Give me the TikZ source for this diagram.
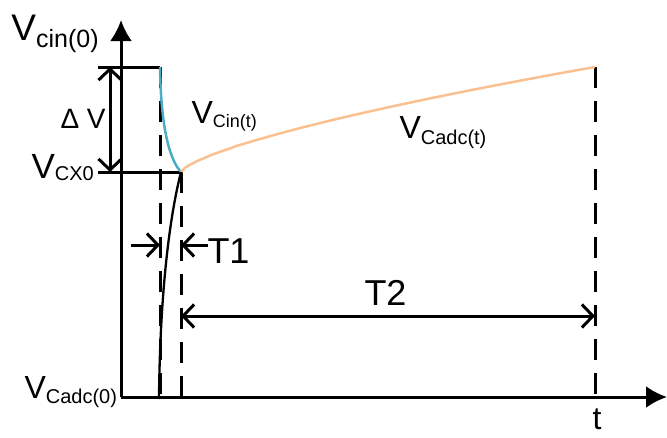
\documentclass[tikz,border=0pt]{standalone}
\usepackage{fontspec}
\setmainfont{Liberation Sans}
\usetikzlibrary{arrows.meta}
\definecolor{cblue}{RGB}{75,172,198}
\definecolor{corange}{RGB}{250,192,143}
\newcommand{\lsub}[3]{\raisebox{-#2}{\fontsize{#1}{#1}\selectfont #3}}
\begin{document}
\begin{tikzpicture}[x=1pt,y=-1pt,line width=3pt,
  axis/.style={-{Latex[length=21pt,width=22pt]}},
  barb/.style={-{Straight Barb[length=11pt,width=23pt]}},
  dbarb/.style={{Straight Barb[length=11pt,width=23pt]}-{Straight Barb[length=11pt,width=23pt]}},
  dashln/.style={dash pattern=on 21pt off 13pt},
  lbl/.style={inner sep=0pt,anchor=base west}]
\useasboundingbox (0,0) rectangle (667,437);
% coordinates
\coordinate (O) at (121,397);
\coordinate (ytip) at (121,20);
\coordinate (xtip) at (667,397);
\coordinate (top0) at (98,67);
\coordinate (topA) at (160,67);
\coordinate (cx0) at (98,172);
\coordinate (cxA) at (181,172);
\coordinate (botA) at (160,399);
\coordinate (botB) at (181,399);
\coordinate (endT) at (595,67);
\coordinate (endB) at (595,397);
\coordinate (bcurve) at (159,399);
\coordinate (dvT) at (110,67);
\coordinate (dvB) at (110,172);
\coordinate (t1L) at (131,245);
\coordinate (t1a) at (160,245);
\coordinate (t1b) at (181,245);
\coordinate (t1R) at (208,245);
\coordinate (t2L) at (181,316);
\coordinate (t2R) at (595,316);
% axes
\draw[axis] (O) -- (ytip);
\draw[axis] (O) -- (xtip);
% level lines
\draw (top0) -- (topA);
\draw (cx0) -- (cxA);
% dashed lines
\draw[dashln] (topA) -- (botA);
\draw[dashln] (cxA) -- (botB);
\draw[dashln] (endT) -- (endB);
% curves
\draw[cblue,line width=2.5pt] (topA) .. controls (161,130) and (170,160) .. (cxA);
\draw[corange,line width=2.5pt] plot[domain=181:595,samples=100] (\x,{172-105*(((\x-181)/414)^0.7)});
\draw[black,line width=2.3pt] (cxA) .. controls (170,215) and (160,290) .. (bcurve);
% dimensions
\draw[dbarb] (dvT) -- (dvB);
\draw[barb] (t1L) -- (t1a);
\draw[barb] (t1R) -- (t1b);
\draw[dbarb] (t2L) -- (t2R);
% labels
\node[lbl,font=\fontsize{37}{37}\selectfont] (lvcin0) at (10,40) {V\lsub{25}{7pt}{cin(0)}};
\node[lbl,font=\fontsize{35}{35}\selectfont] (lvcx0) at (30,178) {V\lsub{20}{2pt}{CX0}};
\node[lbl,font=\fontsize{28}{28}\selectfont] (ldv) at (59,128) {Δ V};
\node[lbl,font=\fontsize{32}{32}\selectfont] (lvcint) at (190,123) {V\lsub{18}{4pt}{Cin(t)}};
\node[lbl,font=\fontsize{32}{32}\selectfont] (lvcadct) at (398,138) {V\lsub{20}{6pt}{Cadc(t)}};
\node[lbl,font=\fontsize{32}{32}\selectfont] (lvcadc0) at (23,398) {V\lsub{20}{5pt}{Cadc(0)}};
\node[lbl,font=\fontsize{36}{36}\selectfont] (lt1) at (206,263) {T1};
\node[lbl,font=\fontsize{36}{36}\selectfont] (lt2) at (363,305) {T2};
\node[lbl,font=\fontsize{32}{32}\selectfont] (lt) at (591,429) {t};
\end{tikzpicture}
\end{document}
